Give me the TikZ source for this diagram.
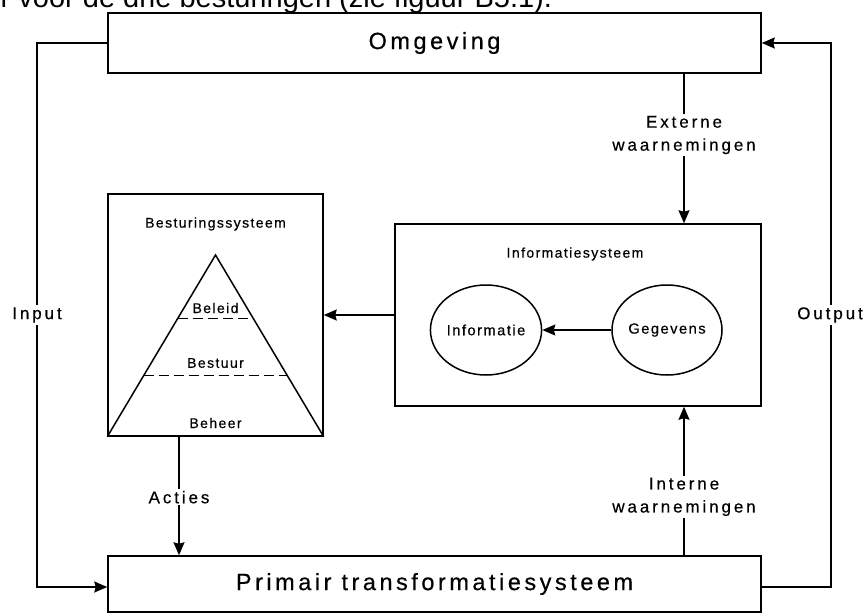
\documentclass[tikz,border=0pt]{standalone}
\usepackage{fontspec}
\setmainfont{Liberation Sans}
\newfontfamily\widefont{Liberation Sans}[LetterSpace=15, FakeBold=0.45]
\newfontfamily\midfont{Liberation Sans}[LetterSpace=17, FakeBold=0.4]
\newfontfamily\smallfont{Liberation Sans}[LetterSpace=10, FakeBold=0.35]
\usetikzlibrary{arrows.meta,calc,shapes.geometric}

\tikzset{
  box/.style={draw, rectangle, inner sep=0pt},
  oval/.style={draw, ellipse, minimum width=110pt, minimum height=90pt, inner sep=0pt,
    font=\smallfont\fontsize{14.7}{17}\selectfont},
  bigtxt/.style={font=\widefont\fontsize{23.5}{27}\selectfont},
  midtxt/.style={font=\midfont\fontsize{17}{23}\selectfont, align=center},
  smalltxt/.style={font=\smallfont\fontsize{14}{16}\selectfont},
  gaplabel/.style={midtxt, fill=white, inner sep=2pt},
  arr/.style={-{Stealth[length=13pt,width=11pt,inset=1.5pt]}},
  layer/.style={dashed, dash pattern=on 10pt off 5pt}
}

\begin{document}
\begin{tikzpicture}[x=1pt, y=-1pt, line width=1.5pt, line join=miter]
  \clip (0,0) rectangle (866,613);
  \fill[white] (0,0) rectangle (866,613);

  % running text line above the figure
  \node[anchor=base west, inner sep=0pt, font=\fontsize{29}{34}\selectfont] (caption)
    at (0,7.5) {r voor de drie besturingen (zie figuur B5.1).};

  % main blocks
  \node[box, bigtxt, minimum width=653pt, minimum height=60pt] (omg) at (434.5,43) {Omgeving};
  \node[box, bigtxt, minimum width=653pt, minimum height=56pt] (prim) at (434.5,584)
    {\raisebox{-3pt}{Primair transformatiesysteem}};
  \node[box, minimum width=215pt, minimum height=242pt] (bes) at (215.5,315) {};
  \node[box, minimum width=366pt, minimum height=182pt] (inf) at (578,315) {};

  % control system: pyramid with its three levels
  \node[smalltxt] (bestitle) at (215.5,224) {Besturingssysteem};
  \coordinate (apex) at (215.5,255);
  \draw (bes.south west) -- (apex) -- (bes.south east);
  \draw[layer] ($(bes.south west)!0.652!(apex)$) -- ($(bes.south east)!0.652!(apex)$);
  \draw[layer] ($(bes.south west)!0.337!(apex)$) -- ($(bes.south east)!0.337!(apex)$);
  \node[smalltxt] (beleid) at (215.5,308) {Beleid};
  \node[smalltxt] (bestuur) at (215.5,363) {Bestuur};
  \node[smalltxt] (beheer) at (215.5,423) {Beheer};

  % information system
  \node[smalltxt] (inftitle) at (575,254) {Informatiesysteem};
  \node[oval] (info) at (486,330) {Informatie};
  \node[oval] (geg) at (667,330) {Gegevens};
  \draw[arr] (geg) -- (info);

  % information flows
  \draw[arr] (inf.west) -- (bes.east);
  \coordinate (obs) at (684,0);
  \draw[arr] (omg.south -| obs) -- node[gaplabel, pos=0.41] {Externe\\waarnemingen} (inf.north -| obs);
  \draw[arr] (prim.north -| obs) -- node[gaplabel, pos=0.393] {Interne\\waarnemingen} (inf.south -| obs);
  \coordinate (act) at (179,0);
  \draw[arr] (bes.south -| act) -- node[gaplabel, pos=0.51] {Acties} (prim.north -| act);

  % input and output loops
  \coordinate (inL) at (37,587);
  \coordinate (outR) at (831,587);
  \draw[arr] (omg.west) -| (inL) -- (inL -| prim.west);
  \draw[arr] (outR -| prim.east) -- (outR) |- (omg.east);
  \node[gaplabel] (inlab) at (37,315) {Input};
  \node[gaplabel] (outlab) at (830,315) {Output};
\end{tikzpicture}
\end{document}
